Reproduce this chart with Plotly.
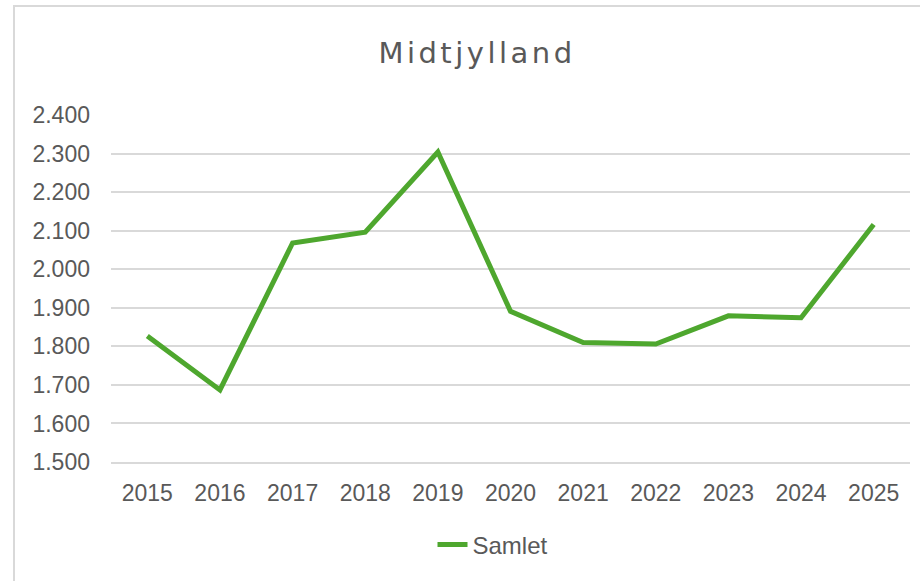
import plotly.graph_objects as go

years = ["2015", "2016", "2017", "2018", "2019", "2020", "2021", "2022", "2023", "2024", "2025"]
samlet = [1827, 1687, 2068, 2096, 2304, 1891, 1810, 1806, 1879, 1874, 2116]
y_ticks = [1500, 1600, 1700, 1800, 1900, 2000, 2100, 2200, 2300, 2400]

W, H = 920, 581
L, R, T, B = 111, 10, 115, 119
pw = W - L - R
ph = H - T - B

def px_x(x):
    return (x - L) / pw

def px_y(y):
    return (H - B - y) / ph

fig = go.Figure()
fig.add_trace(go.Scatter(
    x=years, y=samlet, mode="lines", name="Samlet",
    line=dict(color="#4EA72E", width=5),
))

font_family = "Liberation Sans, Arial, sans-serif"

fig.update_layout(
    width=W, height=H,
    margin=dict(l=L, r=R, t=T, b=B, autoexpand=False),
    paper_bgcolor="white", plot_bgcolor="white",
    separators=",.",
    font=dict(family=font_family, color="#595959", size=23),
    title=dict(
        text='<span style="letter-spacing:3.5px">Midtjylland</span>',
        x=477 / W, xanchor="center", xref="container",
        y=1 - 53 / H, yanchor="middle", yref="container",
        font=dict(family="DejaVu Sans, sans-serif", size=29, color="#595959"),
    ),
    xaxis=dict(
        type="category", range=[-0.5, len(years) - 0.5],
        showgrid=False, zeroline=False,
        showline=True, linecolor="#d9d9d9", linewidth=1.5,
        ticks="", ticklabelstandoff=10,
        tickfont=dict(size=23, color="#595959"),
    ),
    yaxis=dict(
        range=[1500, 2400], tickvals=y_ticks, tickformat=",",
        showgrid=True, gridcolor="#d9d9d9", gridwidth=1.5,
        showline=False, zeroline=False, ticks="", ticklabelstandoff=20,
        tickfont=dict(size=23, color="#595959"),
    ),
    showlegend=True,
    legend=dict(
        orientation="h", x=px_x(493), xanchor="center",
        y=px_y(545), yanchor="middle",
        font=dict(size=24, color="#595959"),
        bgcolor="rgba(0,0,0,0)",
    ),
    shapes=[dict(
        type="rect", xref="paper", yref="paper",
        x0=px_x(14), x1=px_x(940), y0=px_y(600), y1=px_y(6),
        line=dict(color="#d9d9d9", width=2), fillcolor="rgba(0,0,0,0)",
        layer="below",
    )],
)

fig.write_html(
    "out.html",
    config={"displayModeBar": False},
    post_script="document.body.style.margin='0';",
)
